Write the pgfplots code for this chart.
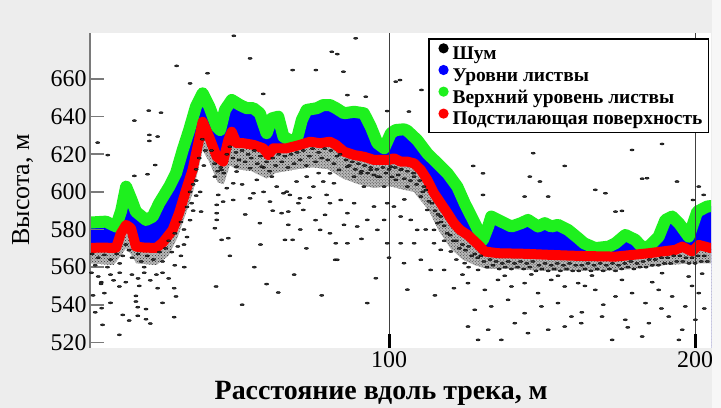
\documentclass[border=0pt]{standalone}
\usepackage{pgfplots}
\pgfplotsset{compat=1.18}
\usepackage{pgfplotstable}
\usetikzlibrary{patterns}
\usepackage{fontspec}
\setmainfont{Liberation Serif}

\definecolor{pagegray}{HTML}{EDEDED}
\definecolor{stripgray}{HTML}{F7F7F7}
\definecolor{axisgray}{HTML}{7A7A7A}
\definecolor{canopyblue}{HTML}{0000FF}
\definecolor{topgreen}{HTML}{1EF01E}
\definecolor{groundred}{HTML}{FF0000}

% ground surface (centre of the red band)
\pgfplotstableread{
x y
2.3 570.2
6.0 570.4
10.8 570.2
12.4 578.0
14.1 582.5
15.7 580.7
17.3 570.9
20.0 570.4
23.9 570.2
26.0 572.9
29.3 579.8
31.4 588.8
33.7 601.1
35.8 611.7
37.9 627.6
39.1 637.3
41.2 629.4
43.7 618.7
45.8 616.1
47.5 627.6
48.6 632.0
50.2 625.9
52.4 625.9
55.7 625.0
58.9 623.2
60.6 619.6
62.2 623.2
66.6 623.2
70.9 625.0
74.2 626.7
77.5 625.9
80.7 626.7
82.7 625.0
85.3 621.4
88.6 619.6
91.8 618.7
95.1 617.0
100.0 617.0
101.6 617.9
103.8 616.1
106.0 616.1
108.2 615.2
110.4 611.7
112.5 606.4
114.7 599.3
116.9 594.0
119.1 588.7
121.2 583.4
123.2 579.8
125.8 577.0
129.1 572.0
131.3 568.3
135.6 567.4
144.3 567.1
153.0 566.5
159.6 566.1
163.7 565.9
174.0 565.6
184.9 567.4
193.6 569.2
195.8 570.9
199.0 568.3
201.2 571.8
205.2 570.1
}\groundtab

% top of the canopy (centre of the green band)
\pgfplotstableread{
x y
2.3 583.7
7.5 584.2
10.8 581.6
12.5 590.0
14.1 602.8
15.8 596.0
17.3 589.5
20.6 585.1
22.8 586.9
24.9 594.0
28.2 602.8
30.4 609.9
32.6 622.3
34.7 632.9
36.9 645.3
39.1 652.4
41.3 645.3
43.7 634.7
44.8 632.9
46.4 643.6
48.6 648.9
51.3 646.2
53.5 644.5
55.7 644.5
57.8 641.8
60.0 631.2
61.7 639.1
63.8 640.0
65.5 629.4
67.6 627.5
69.8 627.5
71.5 638.2
73.1 643.6
76.4 644.5
78.5 646.2
80.7 646.2
82.7 644.5
85.3 641.8
88.6 642.6
91.8 641.8
94.0 634.7
96.2 625.9
98.4 623.2
100.6 631.2
102.2 632.9
104.9 633.3
106.0 632.5
109.2 627.6
112.5 620.5
115.8 615.2
119.1 609.9
122.3 602.8
124.7 594.0
126.9 586.9
129.1 579.8
130.7 574.5
132.4 581.6
133.4 586.9
136.7 584.2
140.0 581.6
143.2 583.4
145.4 585.1
148.7 581.6
150.9 583.4
153.0 581.6
155.2 582.5
158.5 579.8
161.8 575.4
163.7 572.7
167.4 570.1
171.8 570.9
174.0 572.7
177.2 577.1
180.5 574.5
182.7 570.5
184.9 571.0
188.1 576.2
190.3 585.1
192.5 586.9
194.7 583.4
197.9 576.2
200.7 589.5
203.9 592.2
205.2 592.5
}\canopytab

% lower edge of the dense noise returns just under the ground
\pgfplotstableread{
x y
2.3 562
10.0 561
12.4 566
14.1 570
16.0 566
17.3 562
24.0 561
28.0 566
31.0 576
34.0 590
36.0 600
38.0 614
39.1 622
41.2 616
44.0 605
46.0 604
48.0 614
50.0 612
55.0 611
60.0 607
63.0 610
70.0 612
75.0 613
80.0 612
85.0 607
90.0 604
95.0 602
100.0 603
105.0 601
108.0 600
110.0 596
113.0 590
116.0 580
120.0 570
124.0 564
128.0 561
132.0 559
140.0 559
150.0 558
160.0 558
170.0 558
180.0 559
190.0 561
200.0 562
205.2 562
}\densetab

% scattered noise returns
\pgfplotstableread{
x y
30.6 667.0
40.7 663.1
35.0 657.7
21.5 643.2
25.5 642.1
16.8 637.9
21.7 630.3
24.4 629.4
21.7 627.1
4.8 626.2
8.1 619.6
23.6 614.3
16.8 608.5
21.1 609.4
49.3 683.0
54.6 671.0
68.5 664.8
76.1 664.8
81.3 674.5
58.9 652.1
89.1 681.7
83.1 673.3
85.1 663.9
102.2 658.6
110.6 654.2
103.6 659.5
86.4 651.5
92.4 650.6
99.4 643.0
106.5 642.7
147.1 620.6
157.4 613.8
127.5 613.8
130.7 609.9
146.0 608.1
130.7 598.4
144.3 597.5
152.0 597.5
149.3 605.5
179.4 622.3
189.2 625.5
184.3 607.3
182.7 607.0
194.1 605.5
167.4 601.1
170.7 599.3
174.0 589.5
176.1 589.9
201.2 602.8
202.8 598.4
199.3 595.7
3.0 567.0
5.0 565.0
7.0 566.5
9.0 564.0
11.0 567.0
4.0 561.0
8.0 560.0
12.0 562.0
13.0 566.0
14.0 572.0
15.0 569.0
16.0 565.0
18.0 567.0
19.0 563.0
21.0 566.0
23.0 564.0
20.0 560.0
25.0 568.0
26.0 563.0
27.0 570.0
28.0 574.0
29.0 568.0
30.0 578.0
31.0 571.0
32.0 584.0
33.0 580.0
34.0 592.0
35.0 600.0
35.5 594.0
36.0 604.0
37.0 612.0
37.0 606.0
38.0 618.0
39.0 628.0
40.0 622.0
39.5 614.0
2.8 557.0
5.0 555.0
6.0 552.0
9.0 556.0
10.0 553.0
12.0 557.0
14.0 552.0
16.0 556.0
18.0 554.0
20.0 557.0
22.0 553.0
24.0 556.0
26.0 557.0
28.0 554.0
30.0 561.0
32.0 566.0
33.0 572.0
34.0 576.0
35.0 585.0
36.0 590.0
37.0 598.0
38.3 600.0
38.6 589.5
33.1 560.0
5.9 551.1
11.9 549.7
18.4 550.0
24.4 548.8
29.8 548.8
7.0 546.2
30.4 544.4
17.3 544.7
17.3 541.7
17.9 538.7
20.6 537.7
13.0 534.6
17.9 534.1
15.1 531.6
29.8 533.4
6.4 529.3
11.9 524.0
6.1 538.2
3.3 545.0
9.0 541.0
26.0 541.0
22.0 530.0
4.0 536.0
20.6 532.3
42 622
43 615
44 611
45 613
46 610
47 620
48 624
49 618
50 621
51 617
52 622
53 616
54 620
55 618
56 622
57 615
58 619
59 613
60 616
61 611
62 618
63 614
64 620
65 616
66 619
67 613
68 620
69 615
70 621
71 617
72 622
73 614
74 619
75 623
76 616
77 621
78 618
79 623
80 617
81 622
82 615
83 619
45.3 611.7
43.1 608.1
50.2 613.4
50.2 610.8
49.1 604.6
54.6 612.6
56.8 606.4
58.4 613.4
63.3 602.8
61.7 608.1
65.5 599.3
66.6 600.1
67.6 598.4
69.8 605.5
70.9 596.6
73.1 608.1
75.3 602.8
78.5 605.5
79.6 598.4
80.7 609.9
80.7 594.0
44.2 598.4
43.7 593.1
43.7 588.7
43.7 585.1
43.1 580.7
45.8 594.8
49.1 595.7
54.6 596.6
55.7 599.3
61.1 594.8
70.4 594.0
67.1 589.5
64.9 588.7
72.0 590.4
79.1 587.8
57.8 583.4
67.1 582.5
77.5 579.8
80.7 578.0
45.3 574.5
47.5 575.4
66.0 574.5
68.5 574.5
82.4 563.9
43.5 549.7
63.8 546.5
52 604
59 600
62 590
74 597
77 610
47 602
53 588
58 572
71 580
76 585
48 566
56 560
73 570
60 551
69 556
52 540
78 545
84 620
86 617
87 614
88 616
89 612
90 615
91 611
92 614
93 610
94 613
95 609
96 612
97 608
98 613
99 610
100 612
101 608
102 613
103 609
104 612
105 607
106 611
107 606
108 610
109 604
110 606
111 600
112 601
113 595
114 594
115 590
116 588
117 584
118 582
119 578
120 577
121 574
122 574
123 570
124 572
125 569
126 571
127 566
128 567
129 565
130 566
82.0 604.6
83.7 611.7
86.4 613.4
88.6 608.1
90.8 609.9
91.8 602.8
94.0 611.7
96.2 608.1
98.4 602.8
100.6 613.4
102.2 606.4
103.8 611.7
106.0 602.8
108.2 608.1
110.4 597.5
111.4 602.8
112.5 590.4
114.7 579.8
115.8 583.4
116.9 586.9
99.4 594.0
95.1 592.2
88.6 594.0
86.4 588.7
84.2 595.7
101.6 592.2
103.8 586.9
107.1 585.1
109.2 579.8
92.9 585.1
89.6 581.6
85.3 582.5
96.2 579.8
99.4 572.7
103.8 572.7
108.2 572.7
114.7 572.7
116.9 569.2
120.2 568.3
110.4 563.9
104.9 562.1
113.6 558.5
118.0 558.5
83.1 563.9
95.7 554.1
92.9 540.9
121.2 548.8
98.4 585.1
82.6 572.7
86.4 572.7
105 596
112 580
118 574
122 564
126 560
100 565
91 575
106 548
115 545
124 556
131 563
132 560
133 564
134 561
135 563
136 559
137 562
138 560
139 563
140 559
141 562
142 560
143 563
144 559
145 562
146 560
147 563
148 558
149 561
150 559
151 562
152 558
153 561
154 559
155 562
156 558
157 561
158 559
159 562
160 558
161 561
162 558
163 561
164 559
165 562
166 558
167 561
168 559
169 562
170 558
171 561
172 559
173 562
174 558
175 561
176 559
177 562
178 560
179 563
180 559
181 562
182 560
183 563
184 560
185 564
186 561
187 564
188 561
189 565
190 562
191 565
192 562
193 566
194 563
195 566
196 563
197 565
198 562
199 565
200 562
201 566
202 563
203 566
204 563
124.7 562.1
129.1 558.5
137.8 555.4
146.5 556.1
155.2 555.4
125.8 551.5
131.3 547.9
135.6 553.2
140.0 549.7
144.3 551.5
148.7 546.2
153.0 553.2
157.4 549.7
161.8 551.5
128.0 537.3
133.4 539.1
138.9 542.6
144.3 535.5
149.8 539.1
155.2 540.9
159.6 533.7
125.8 528.4
132.4 526.7
141.1 530.2
145.4 524.9
152.0 526.7
157.4 528.4
162.8 530.2
136.7 521.3
129.1 521.3
166.3 555.5
176.1 553.2
189.2 556.8
197.9 555.0
202.3 556.5
167.4 547.9
174.0 544.4
179.4 546.2
183.8 540.9
188.1 547.9
192.5 544.4
196.8 539.1
201.2 546.2
169.6 533.7
177.2 532.0
184.9 530.2
191.4 533.7
195.8 526.7
200.1 532.0
172.9 521.3
182.7 523.1
194.7 521.3
164 550
170 540
186 552
199 550
203 538
178 528
163 536
189 538
}\noisetab

\begin{document}
\begin{tikzpicture}
\fill[pagegray] (0,0) rectangle (721bp,408bp);
\begin{axis}[
  at={(90bp,60bp)}, anchor=south west,
  scale only axis, width=621bp, height=315bp,
  xmin=2.3, xmax=205.2, ymin=517, ymax=684.5,
  axis background/.style={fill=white},
  axis lines*=left,
  x axis line style={draw=none},
  y axis line style={axisgray, line width=2bp},
  xtick={100,200}, ytick={520,540,...,660},
  tick align=inside,
  major tick length=14bp,
  xtick style={black, line width=3bp},
  ytick style={axisgray, line width=1.6bp},
  xmajorgrids, major x grid style={black!75, line width=0.8bp},
  tick label style={font=\fontsize{24}{24}\selectfont},
  /pgf/number format/assume math mode=true,
  xlabel={Расстояние вдоль трека, м},
  xlabel style={font=\fontsize{28}{30}\selectfont\bfseries,
    at={(axis description cs:0.469,-0.165)}, anchor=base},
  ylabel={Высота, м},
  ylabel style={font=\fontsize{26}{28}\selectfont,
    at={(axis description cs:-0.098,0.502)}, anchor=base},
  legend style={at={(axis description cs:0.997,0.984)}, anchor=north east,
    draw=black, line width=1.5bp, fill=white,
    font=\fontsize{19.5}{21}\selectfont\bfseries,
    inner xsep=4bp, inner ysep=4.5bp, row sep=2bp,
    /tikz/every odd column/.append style={column sep=2bp}},
  legend cell align=left,
  axis on top,
]
% foliage levels: filled from the canopy top downwards
\addplot[fill=canopyblue, draw=none, forget plot] table {\canopytab} \closedcycle;
% dense returns from the ground surface down to their lower edge
\addplot[draw=none, forget plot, preaction={fill=black!28},
  pattern=crosshatch dots, pattern color=black!80] table {\groundtab} \closedcycle;
\addplot[fill=white, draw=none, forget plot] table {\densetab} \closedcycle;
% scattered noise returns
\addplot[only marks, mark=*, mark size=1.4bp, forget plot,
  mark options={fill=black!80, draw=none, xscale=1.5, yscale=0.75}]
  table {\noisetab};
% canopy top and ground surface
\addplot[topgreen, line width=12bp, line join=round, line cap=round, forget plot]
  table {\canopytab};
\addplot[groundred, line width=10bp, line join=round, line cap=round, forget plot]
  table {\groundtab};
% short stub of the horizontal axis at the left corner
\draw[axisgray, line width=2bp] (rel axis cs:0,0) -- ++(21bp,0);

\addlegendimage{legend image code/.code={\path (0bp,5.5bp); \fill[black] (10bp,5.5bp) circle (4.3bp);}}
\addlegendentry{Шум}
\addlegendimage{legend image code/.code={\path (0bp,5.5bp); \fill[canopyblue] (10bp,5.5bp) circle (4.3bp);}}
\addlegendentry{Уровни листвы}
\addlegendimage{legend image code/.code={\path (0bp,5.5bp); \fill[topgreen] (10bp,5.5bp) circle (4.3bp);}}
\addlegendentry{Верхний уровень листвы}
\addlegendimage{legend image code/.code={\path (0bp,5.5bp); \fill[groundred] (10bp,5.5bp) circle (4.3bp);}}
\addlegendentry{Подстилающая поверхность}
\end{axis}
\fill[stripgray] (712bp,0) rectangle (721bp,408bp);
\pgfresetboundingbox
\useasboundingbox (0,0) rectangle (721bp,408bp);
\end{tikzpicture}
\end{document}
